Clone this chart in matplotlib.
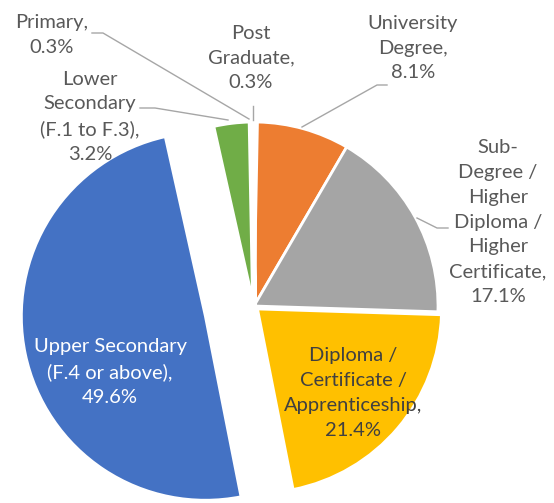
import matplotlib
matplotlib.use("Agg")
import matplotlib.pyplot as plt

W, H = 554, 503

# data (Excel order, clockwise from 12 o'clock)
categories = ["Post\nGraduate", "University\nDegree",
              "Sub-\nDegree /\nHigher\nDiploma /\nHigher\nCertificate",
              "Diploma /\nCertificate /\nApprenticeship",
              "Upper Secondary\n(F.4 or above)",
              "Lower\nSecondary\n(F.1 to F.3)", "Primary"]
shares = [0.3, 8.1, 17.1, 21.4, 49.6, 3.2, 0.3]
colors = ["#4472C4", "#ED7D31", "#A5A5A5", "#FFC000", "#4472C4", "#70AD47", "#264478"]
explode = [0, 0, 0, 0.025, 0.27, 0, 0]   # fraction of the radius

# label layout in pixel coords (center x, center y), text colour
label_pos = [(251, 58), (413, 48), (498, 222), (353, 393), (110, 372), (90, 117), (52, 35)]
label_col = ["#595959", "#595959", "#595959", "#404040", "white", "#595959", "#595959"]
leaders = {
    0: [(253, 106), (253, 120)],
    1: [(387, 85), (377, 85), (302, 127)],
    2: [(448, 228), (437, 228), (417, 218)],
    5: [(140, 108), (155, 108), (228, 120)],
    6: [(92, 33), (103, 33), (249, 119)],
}
R = 184

plt.rcParams["font.family"] = ["Lato", "DejaVu Sans"]

fig = plt.figure(figsize=(W / 100, H / 100), dpi=100)
ax = fig.add_axes([0, 0, 1, 1])

# matplotlib's explode is in data units, so scale it by the radius
wedges, _ = ax.pie(shares, colors=colors, explode=[e * R for e in explode],
                   center=(254, H - 306), radius=R, startangle=90, counterclock=False,
                   wedgeprops=dict(edgecolor="white", linewidth=2))
# the two 0.3% slivers disappear under the white borders in the original
for i in (0, 6):
    wedges[i].set_linewidth(4)

for i, (name, val) in enumerate(zip(categories, shares)):
    x, y = label_pos[i]
    ax.text(x, H - y, f"{name},\n{val}%", ha="center", va="center",
            fontsize=14.5, color=label_col[i], linespacing=1.55, multialignment="center")
    if i in leaders:
        xs = [p[0] for p in leaders[i]]
        ys = [H - p[1] for p in leaders[i]]
        ax.plot(xs, ys, color="#A6A6A6", linewidth=1)

ax.set_xlim(0, W)
ax.set_ylim(0, H)
ax.set_aspect("equal")
ax.axis("off")

fig.savefig("out.png", dpi=100)
